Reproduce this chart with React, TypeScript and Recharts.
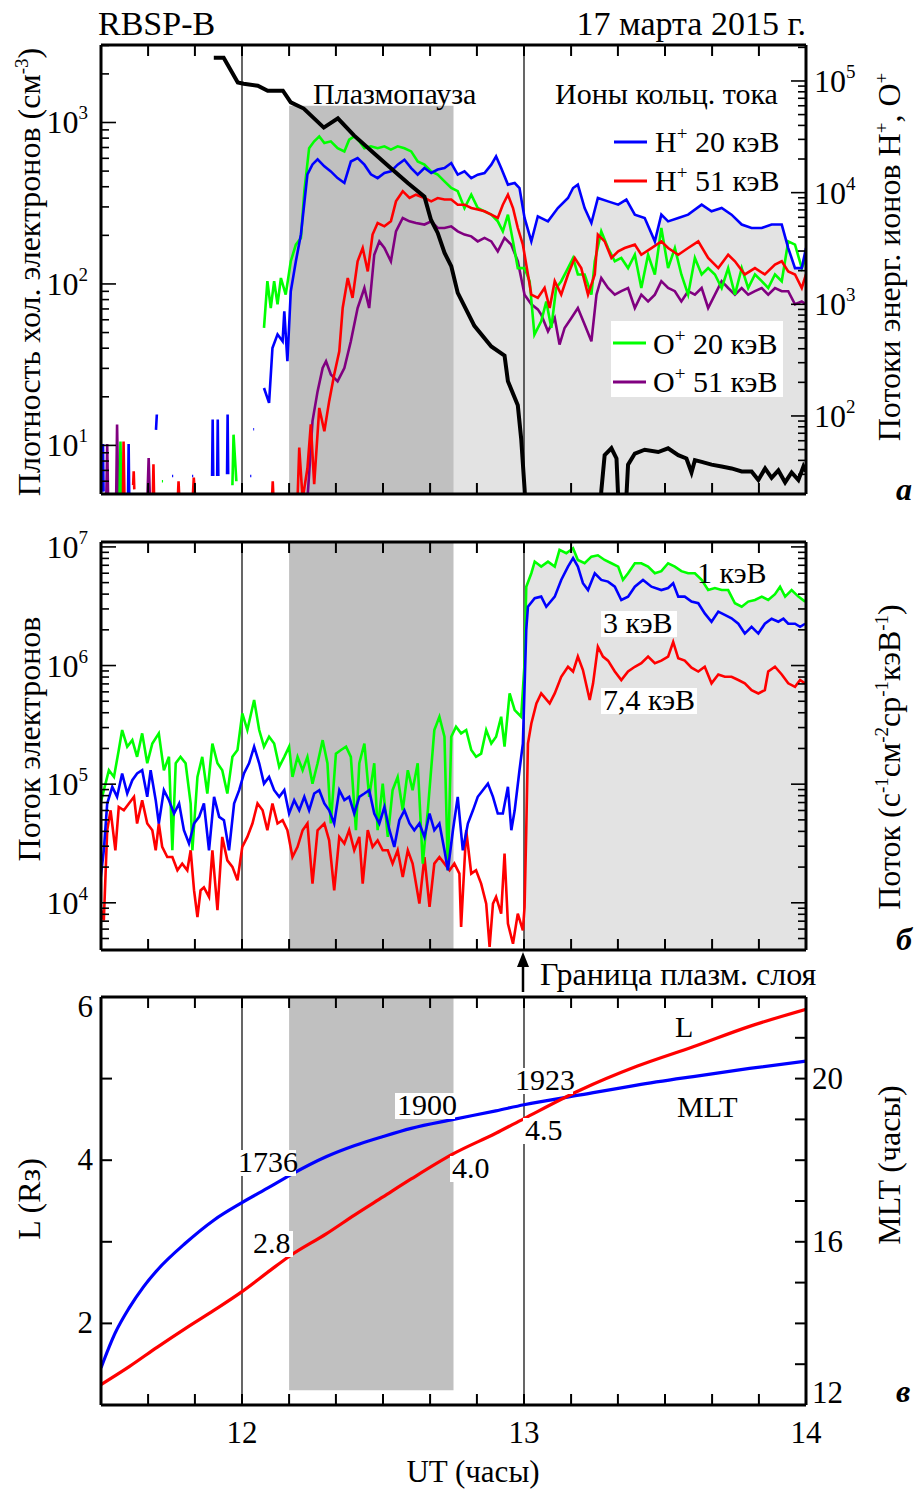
import React from 'react';
import { ComposedChart, Line, Area, XAxis, YAxis, ReferenceArea, ReferenceLine } from 'recharts';

type Pt = [number, number | null];

const FONT = '"Liberation Serif", "Times New Roman", serif';
const BLUE = '#0000ff';
const RED = '#ff0000';
const GREEN = '#00ff00';
const PURPLE = '#800080';
const DARK = '#c0c0c0';
const LIGHT = '#e3e3e3';

// UT axis, decimal hours
const UT_TICKS = [11.5, 11.667, 11.833, 12, 12.167, 12.333, 12.5, 12.667, 12.833, 13, 13.167, 13.333, 13.5, 13.667, 13.833, 14];
const UT_LABELS = [12, 13, 14];
const UT_MARKS = [12, 13];
const PLASMAPAUSE: [number, number] = [12.167, 12.75];

const DENS_DECADES = [1, 10, 100, 1000];
const ION_DECADES = [10, 100, 1000, 10000, 100000];
const ELEC_DECADES = [1000, 10000, 100000, 1000000, 10000000];
const L_TICKS = [1, 2, 3, 4, 5, 6];
const L_LABELS = [2, 4, 6];
const MLT_TICKS = [12, 13, 14, 15, 16, 17, 18, 19, 20, 21, 22];
const MLT_LABELS = [12, 16, 20];

// panel a: cold electron density (cm^-3)
const N_COLD: Pt[] = [[11.9,2520],[11.935,2520],[11.985,1770],[12.006,1740],[12.056,1690],[12.091,1573],[12.145,1573],[12.173,1333],[12.219,1220],[12.29,930],[12.34,1060],[12.397,832],[12.468,645],[12.528,521],[12.589,420],[12.647,347],[12.67,250],[12.694,207],[12.718,156],[12.742,129],[12.765,88],[12.824,55],[12.884,41],[12.931,36],[12.943,25],[12.978,17.7],[12.99,11],[13.002,5.4],[13.01,3],[13.27,3],[13.274,5.2],[13.286,8.7],[13.31,9.6],[13.328,8.3],[13.339,3],[13.357,3],[13.369,7.6],[13.393,8.9],[13.428,9.4],[13.476,9.1],[13.511,9.6],[13.547,8.7],[13.576,8.3],[13.594,6.8],[13.606,8.1],[13.63,7.9],[13.665,7.6],[13.701,7.4],[13.736,7.2],[13.772,6.9],[13.807,6.9],[13.831,6.1],[13.855,7.2],[13.878,6.3],[13.902,7.0],[13.926,5.9],[13.949,6.8],[13.973,6.1],[13.991,7.4],[14.0,6.9]];

// panel a: ring current ion fluxes
const H_20: Pt[] = [[11.505,21],[11.507,56],[11.509,21],[11.51,null],[11.596,20],[11.598,56],[11.6,20],[11.601,null],[11.695,75],[11.698,103],[11.699,null],[11.752,29],[11.756,29],[11.757,null],[11.823,29],[11.827,29],[11.828,null],[11.894,29],[11.896,93],[11.898,29],[11.899,null],[11.912,29],[11.914,93],[11.916,29],[11.917,null],[11.947,30],[11.949,103],[11.951,30],[11.952,null],[12.029,29],[12.033,29],[12.034,null],[12.04,76],[12.043,76],[12.044,null],
[12.078,178],[12.096,131],[12.108,406],[12.126,538],[12.144,466],[12.15,865],[12.161,309],[12.173,1307],[12.191,2430],[12.209,4240],[12.232,14600],[12.25,17900],[12.268,19900],[12.292,17200],[12.315,15500],[12.339,13500],[12.363,12200],[12.386,19000],[12.41,20400],[12.434,17800],[12.457,14600],[12.481,13500],[12.505,15000],[12.528,15500],[12.552,17800],[12.576,19700],[12.6,16600],[12.623,14500],[12.647,16600],[12.671,15000],[12.694,16100],[12.718,16600],[12.742,18400],[12.765,14500],[12.789,15500],[12.813,13500],[12.836,14500],[12.86,15000],[12.884,17800],[12.901,21100],[12.919,16600],[12.943,11800],[12.967,12200],[12.984,11000],[13.002,5930],[13.026,3660],[13.049,6140],[13.085,5530],[13.12,7280],[13.156,8950],[13.174,11000],[13.191,11800],[13.215,7280],[13.239,5350],[13.262,8950],[13.298,8350],[13.334,7800],[13.363,8670],[13.393,6350],[13.428,5930],[13.464,3660],[13.487,6350],[13.511,5530],[13.547,5930],[13.582,6350],[13.63,7800],[13.665,6800],[13.701,7280],[13.736,6350],[13.772,5180],[13.807,4820],[13.843,4820],[13.878,5180],[13.914,5180],[13.937,3190],[13.961,2110],[13.985,2110],[14.0,3190]];

const H_51: Pt[] = [[11.578,20],[11.58,59],[11.583,20],[11.584,null],[11.614,24],[11.616,32],[11.618,22],[11.619,null],[11.684,20],[11.686,37],[11.688,20],[11.689,null],[11.773,20],[11.775,26],[11.777,20],[11.778,null],[11.826,20],[11.829,28],[11.833,20],[11.834,null],[12.107,20],[12.109,26],[12.111,20],[12.112,null],
[12.197,18],[12.203,52],[12.215,18],[12.232,34],[12.244,84],[12.256,24.5],[12.274,118],[12.292,73],[12.309,135],[12.327,235],[12.345,379],[12.357,926],[12.375,1720],[12.392,1140],[12.41,2430],[12.428,3190],[12.446,1970],[12.463,4210],[12.481,5350],[12.505,4990],[12.528,5530],[12.546,8350],[12.57,10300],[12.594,8950],[12.617,9590],[12.647,8950],[12.671,8350],[12.694,8950],[12.718,8670],[12.742,8670],[12.765,7800],[12.789,7800],[12.813,7280],[12.836,7050],[12.86,6800],[12.884,6350],[12.907,5930],[12.925,7800],[12.943,9590],[12.961,7280],[12.978,4820],[12.996,3420],[13.014,1850],[13.026,1220],[13.049,1140],[13.073,1400],[13.091,926],[13.109,1610],[13.132,1220],[13.156,1850],[13.18,2600],[13.203,2110],[13.227,1220],[13.251,1850],[13.262,4210],[13.286,3660],[13.31,2600],[13.334,2980],[13.357,3190],[13.393,3420],[13.416,2780],[13.452,3190],[13.487,3660],[13.511,3190],[13.547,2780],[13.582,3190],[13.618,3660],[13.653,2600],[13.689,2110],[13.724,2780],[13.748,2430],[13.783,1850],[13.819,2110],[13.854,1850],[13.89,2270],[13.914,2430],[13.937,1970],[13.961,1850],[13.985,1400],[14.0,1850]];

const O_20: Pt[] = [[11.566,20],[11.569,59],[11.573,20],[11.574,null],[11.716,26],[11.72,26],[11.721,null],[11.966,24],[11.97,68],[11.98,26],[11.981,null],
[12.078,614],[12.09,1610],[12.102,926],[12.114,1610],[12.126,1000],[12.138,1720],[12.155,1220],[12.173,2430],[12.191,3420],[12.209,3930],[12.221,10300],[12.238,25000],[12.256,28800],[12.274,31900],[12.292,27800],[12.315,28800],[12.339,25000],[12.363,23400],[12.38,29800],[12.398,31900],[12.416,28800],[12.434,25000],[12.457,26000],[12.481,25000],[12.505,26000],[12.528,24300],[12.552,26000],[12.576,25000],[12.6,23400],[12.623,19000],[12.647,17800],[12.671,15500],[12.694,14500],[12.718,12600],[12.742,11000],[12.765,10300],[12.789,7280],[12.813,9590],[12.836,7280],[12.86,6800],[12.884,6350],[12.907,5530],[12.925,4500],[12.943,6350],[12.961,3660],[12.978,2110],[13.002,2110],[13.02,1610],[13.037,535],[13.061,705],[13.079,1060],[13.097,614],[13.114,1400],[13.132,1610],[13.156,2110],[13.174,2600],[13.191,1850],[13.215,1850],[13.239,1220],[13.251,2430],[13.274,4500],[13.298,3190],[13.322,2430],[13.345,2600],[13.369,2110],[13.393,2780],[13.416,1400],[13.44,2780],[13.464,1850],[13.487,4820],[13.511,2110],[13.535,3190],[13.558,1850],[13.582,1220],[13.606,2600],[13.63,1850],[13.653,2110],[13.677,1850],[13.701,1400],[13.724,2110],[13.748,1220],[13.772,2110],[13.795,1400],[13.819,1850],[13.843,1610],[13.866,1400],[13.89,1850],[13.914,1610],[13.937,3660],[13.961,3420],[13.985,2110],[14.0,2600]];

const O_51: Pt[] = [[11.519,20],[11.522,56],[11.525,20],[11.526,null],[11.554,20],[11.557,84],[11.561,20],[11.562,null],[11.665,20],[11.669,42],[11.673,20],[11.674,null],
[12.232,18],[12.238,30],[12.25,90],[12.268,166],[12.286,269],[12.298,309],[12.315,235],[12.339,204],[12.363,269],[12.386,466],[12.41,926],[12.434,1400],[12.451,926],[12.469,2780],[12.487,3660],[12.505,3190],[12.528,2430],[12.546,4500],[12.57,5930],[12.594,5530],[12.617,5350],[12.647,5180],[12.671,5530],[12.694,4820],[12.718,4820],[12.742,4990],[12.765,4500],[12.789,4210],[12.813,4060],[12.836,3660],[12.86,3930],[12.884,3660],[12.907,2980],[12.931,3930],[12.955,3420],[12.978,2430],[13.002,1220],[13.026,1000],[13.049,900],[13.061,809],[13.085,573],[13.109,754],[13.126,436],[13.144,614],[13.168,754],[13.191,926],[13.215,658],[13.239,466],[13.257,1220],[13.274,1720],[13.298,1400],[13.322,1220],[13.345,1310],[13.369,1400],[13.393,926],[13.416,1220],[13.44,1060],[13.464,1220],[13.487,1610],[13.511,1400],[13.535,1310],[13.558,1060],[13.582,1310],[13.606,1220],[13.63,1400],[13.653,926],[13.677,1220],[13.701,1610],[13.724,1400],[13.748,1220],[13.772,1400],[13.795,1220],[13.819,1310],[13.843,1400],[13.866,1220],[13.89,1400],[13.914,1310],[13.937,1310],[13.961,1000],[13.985,1060],[14.0,1000]];

// panel b: electron fluxes
const E_1: Pt[] = [[11.498,68700],[11.516,101000],[11.528,131000],[11.546,115000],[11.563,194000],[11.575,286000],[11.593,207000],[11.611,235000],[11.628,170000],[11.646,268000],[11.664,150000],[11.682,220000],[11.705,268000],[11.723,131000],[11.741,170000],[11.753,27700],[11.765,150000],[11.782,170000],[11.8,150000],[11.818,68700],[11.824,27700],[11.842,115000],[11.859,170000],[11.877,83400],[11.895,220000],[11.913,150000],[11.93,131000],[11.948,83400],[11.966,170000],[11.984,194000],[12.001,395000],[12.019,286000],[12.043,512000],[12.061,286000],[12.078,207000],[12.096,251000],[12.114,220000],[12.132,140000],[12.15,170000],[12.167,207000],[12.179,115000],[12.197,170000],[12.215,131000],[12.232,170000],[12.25,101000],[12.268,150000],[12.286,235000],[12.303,150000],[12.315,46600],[12.333,181000],[12.351,194000],[12.369,207000],[12.386,170000],[12.404,40900],[12.416,150000],[12.434,220000],[12.451,78200],[12.469,150000],[12.481,40900],[12.499,101000],[12.517,35900],[12.534,89000],[12.552,115000],[12.57,60200],[12.588,131000],[12.605,89000],[12.623,150000],[12.641,21400],[12.659,60200],[12.682,286000],[12.7,370000],[12.718,251000],[12.73,18800],[12.742,251000],[12.759,305000],[12.777,268000],[12.795,286000],[12.813,194000],[12.83,170000],[12.848,181000],[12.866,286000],[12.884,220000],[12.901,251000],[12.919,370000],[12.931,207000],[12.949,582000],[12.967,421000],[12.99,370000],[13.002,1045000],[13.008,4620000],[13.026,6000000],[13.038,7520000],[13.061,6820000],[13.085,7520000],[13.109,6820000],[13.126,9440000],[13.15,8850000],[13.174,9750000],[13.191,7760000],[13.215,7280000],[13.239,8280000],[13.262,8500000],[13.286,7760000],[13.31,7280000],[13.334,6820000],[13.351,5270000],[13.369,6000000],[13.393,7280000],[13.416,7280000],[13.44,6820000],[13.464,6000000],[13.487,6250000],[13.511,7280000],[13.535,6820000],[13.558,6250000],[13.582,6000000],[13.606,6000000],[13.63,5270000],[13.653,4330000],[13.677,4500000],[13.701,4330000],[13.724,4330000],[13.748,3350000],[13.772,3130000],[13.795,3460000],[13.819,3570000],[13.843,3810000],[13.866,3570000],[13.89,4000000],[13.908,4620000],[13.926,3810000],[13.949,4330000],[13.973,3810000],[13.997,3460000]];

const E_3: Pt[] = [[11.498,15500],[11.51,27700],[11.522,68700],[11.54,94900],[11.557,78200],[11.575,123000],[11.593,83400],[11.611,108000],[11.628,123000],[11.646,131000],[11.664,78200],[11.676,131000],[11.694,73300],[11.705,46600],[11.723,89000],[11.741,73300],[11.759,56600],[11.777,68700],[11.794,40900],[11.812,31600],[11.83,46600],[11.848,53000],[11.865,68700],[11.883,27700],[11.901,78200],[11.919,53000],[11.936,49700],[11.954,27700],[11.972,68700],[11.99,89000],[12.007,123000],[12.025,150000],[12.043,207000],[12.061,150000],[12.078,101000],[12.096,115000],[12.114,89000],[12.132,78200],[12.15,89000],[12.167,56600],[12.185,73300],[12.203,60200],[12.221,78200],[12.238,60200],[12.256,83400],[12.274,89000],[12.292,68700],[12.309,60200],[12.327,46600],[12.345,89000],[12.363,73300],[12.38,78200],[12.398,56600],[12.416,78200],[12.434,83400],[12.451,89000],[12.469,56600],[12.487,46600],[12.505,64200],[12.523,40900],[12.54,29600],[12.558,49700],[12.576,60200],[12.594,46600],[12.611,40900],[12.629,46600],[12.647,35900],[12.665,56600],[12.682,40900],[12.7,46600],[12.718,27700],[12.73,18800],[12.748,40900],[12.765,78200],[12.783,27700],[12.801,46600],[12.819,60200],[12.836,78200],[12.854,89000],[12.872,101000],[12.89,78200],[12.907,56600],[12.925,56600],[12.943,94900],[12.955,40900],[12.967,60200],[12.984,131000],[12.996,220000],[13.008,2000000],[13.014,3130000],[13.038,3690000],[13.061,3810000],[13.079,3130000],[13.109,3810000],[13.132,5270000],[13.156,6820000],[13.174,8040000],[13.191,6820000],[13.209,4940000],[13.227,4330000],[13.251,6000000],[13.274,5270000],[13.298,5100000],[13.322,4620000],[13.345,3570000],[13.369,3810000],[13.393,4620000],[13.422,5270000],[13.452,4620000],[13.487,4330000],[13.511,4500000],[13.529,4940000],[13.547,3810000],[13.57,3810000],[13.594,3460000],[13.618,3350000],[13.641,2750000],[13.665,2340000],[13.689,2850000],[13.712,2670000],[13.736,2500000],[13.76,2250000],[13.783,1860000],[13.807,2120000],[13.831,1860000],[13.854,2250000],[13.878,2480000],[13.902,2340000],[13.92,2480000],[13.937,2250000],[13.961,2250000],[13.979,2120000],[13.997,2250000]];

const E_74: Pt[] = [[11.498,9220],[11.51,7110],[11.522,40900],[11.534,60200],[11.551,27700],[11.563,64200],[11.581,60200],[11.599,68700],[11.617,78200],[11.628,46600],[11.646,73300],[11.664,46600],[11.682,40900],[11.694,27700],[11.705,46600],[11.717,29600],[11.735,24300],[11.753,24300],[11.771,18800],[11.788,21400],[11.806,18800],[11.818,27700],[11.83,12700],[11.842,7590],[11.853,12700],[11.865,13500],[11.883,11200],[11.895,27700],[11.913,8650],[11.93,35900],[11.948,22800],[11.966,20100],[11.984,15500],[12.001,29600],[12.019,35900],[12.037,46600],[12.055,68700],[12.073,60200],[12.09,40900],[12.108,68700],[12.126,46600],[12.144,49700],[12.161,40900],[12.179,24300],[12.197,29600],[12.215,40900],[12.232,46600],[12.25,14500],[12.268,40900],[12.292,46600],[12.309,33600],[12.327,12700],[12.345,35900],[12.363,31600],[12.38,40900],[12.398,27700],[12.416,35900],[12.428,14500],[12.446,40900],[12.463,29600],[12.481,33600],[12.499,27700],[12.517,27700],[12.534,21400],[12.552,27700],[12.57,16500],[12.588,27700],[12.605,21400],[12.629,9840],[12.647,24300],[12.665,9220],[12.682,21400],[12.7,24300],[12.718,21400],[12.736,18800],[12.753,21400],[12.771,17600],[12.777,6250],[12.795,40900],[12.813,17600],[12.83,18800],[12.848,14500],[12.866,9840],[12.878,4240],[12.89,9840],[12.901,11200],[12.919,8110],[12.931,26000],[12.943,6670],[12.961,4520],[12.978,8110],[12.996,5860],[13.002,9220],[13.008,40900],[13.014,220000],[13.026,325000],[13.044,480000],[13.061,582000],[13.091,480000],[13.109,582000],[13.132,804000],[13.156,977000],[13.174,890000],[13.191,1190000],[13.209,916000],[13.233,512000],[13.245,708000],[13.262,1440000],[13.28,1190000],[13.298,1100000],[13.322,890000],[13.345,755000],[13.369,890000],[13.393,977000],[13.416,1045000],[13.44,1190000],[13.464,1045000],[13.487,1100000],[13.511,1190000],[13.529,1580000],[13.547,1150000],[13.57,1100000],[13.594,960000],[13.618,890000],[13.641,977000],[13.665,708000],[13.689,840000],[13.712,804000],[13.736,804000],[13.76,755000],[13.783,708000],[13.807,621000],[13.831,582000],[13.854,621000],[13.866,890000],[13.89,977000],[13.914,840000],[13.937,708000],[13.961,662000],[13.979,755000],[13.997,708000]];

// panel c: orbit
const L_SHELL: Pt[] = [[11.5,1.25],[11.6,1.47],[11.7,1.71],[11.8,1.94],[11.9,2.16],[12.0,2.39],[12.1,2.65],[12.167,2.82],[12.3,3.1],[12.4,3.33],[12.5,3.55],[12.6,3.77],[12.75,4.08],[12.9,4.33],[13.0,4.51],[13.2,4.86],[13.4,5.15],[13.6,5.39],[13.8,5.64],[14.0,5.85]];
const MLT: Pt[] = [[11.5,12.91],[11.55,13.76],[11.6,14.38],[11.65,14.89],[11.7,15.31],[11.8,15.97],[11.9,16.53],[12.0,16.96],[12.1,17.35],[12.167,17.62],[12.3,18.09],[12.4,18.36],[12.5,18.58],[12.6,18.78],[12.75,19.0],[12.9,19.21],[13.0,19.36],[13.2,19.6],[13.4,19.84],[13.6,20.05],[13.8,20.25],[14.0,20.43]];

const rows = (pts: Pt[]) => pts.map(([t, v]) => ({ t, v }));
const logTicks = (decades: number[], lo: number, hi: number) =>
  decades.flatMap((d) => [1, 2, 3, 4, 5, 6, 7, 8, 9].map((m) => m * d)).filter((v) => v >= lo && v <= hi);

const PL = 101;
const PR = 806;
const AX = 1; // axis box size (kept tiny, the frame sits on the plot edge)
const frame = { stroke: '#000', strokeWidth: 3 };

const xTick = (edge: number, dir: number, labelled: boolean) => (p: any) => {
  const v = Number(p.payload.value);
  return (
    <g>
      <line x1={p.x} x2={p.x} y1={edge} y2={edge + dir * 11} stroke="#000" strokeWidth={2} />
      {labelled && UT_LABELS.includes(v) && (
        <text x={p.x} y={edge + 38} textAnchor="middle" fontFamily={FONT} fontSize={31} fill="#000">{v}</text>
      )}
    </g>
  );
};

const logTick = (edge: number, dir: number, decades: number[], side: 'left' | 'right' | null) => (p: any) => {
  const v = Number(p.payload.value);
  const major = decades.includes(v);
  const exp = Math.round(Math.log10(v));
  return (
    <g>
      <line x1={edge} x2={edge + dir * (major ? 15 : 8)} y1={p.y} y2={p.y} stroke="#000" strokeWidth={1.6} />
      {side && major && (
        <text x={side === 'left' ? edge - 13 : edge + 8} y={p.y + 11} textAnchor={side === 'left' ? 'end' : 'start'}
          fontFamily={FONT} fontSize={32} fill="#000">
          10<tspan dy={-14} fontSize={19}>{exp}</tspan>
        </text>
      )}
    </g>
  );
};

const linTick = (edge: number, dir: number, labels: number[], side: 'left' | 'right', top: number, bottom: number) => (p: any) => {
  const v = Number(p.payload.value);
  const base = Math.min(Math.max(p.y + 10, top + 20), bottom - 2);
  return (
    <g>
      <line x1={edge} x2={edge + dir * 11} y1={p.y} y2={p.y} stroke="#000" strokeWidth={2} />
      {labels.includes(v) && (
        <text x={side === 'left' ? edge - 8 : edge + 6} y={base} textAnchor={side === 'left' ? 'end' : 'start'}
          fontFamily={FONT} fontSize={31} fill="#000">{v}</text>
      )}
    </g>
  );
};

const series = (id: string, pts: Pt[], color: string, width = 2.6) => (
  <Line xAxisId="b" yAxisId={id} data={rows(pts)} dataKey="v" type="linear" stroke={color} strokeWidth={width}
    dot={false} activeDot={false} isAnimationActive={false} />
);

const timeAxes = (top: number, bottom: number, labelled: boolean) => [
  <XAxis key="b" xAxisId="b" dataKey="t" type="number" domain={[11.5, 14]} ticks={UT_TICKS} interval={0} height={AX}
    allowDataOverflow tickLine={false} axisLine={frame} tick={xTick(bottom, -1, labelled)} />,
  <XAxis key="t" xAxisId="t" orientation="top" dataKey="t" type="number" domain={[11.5, 14]} ticks={UT_TICKS} interval={0}
    height={AX} allowDataOverflow tickLine={false} axisLine={frame} tick={xTick(top, 1, false)} />,
];

const marginFor = (top: number, bottom: number, height: number) => ({
  top: top - AX,
  bottom: height - bottom - AX,
  left: PL - AX,
  right: 918 - PR - AX,
});

function PanelA() {
  const top = 45, bottom = 494, h = 520;
  return (
    <ComposedChart width={918} height={h} margin={marginFor(top, bottom, h)}>
      {timeAxes(top, bottom, false)}
      <YAxis yAxisId="n" scale="log" domain={[5, 3020]} allowDataOverflow width={AX} ticks={logTicks(DENS_DECADES, 5, 3020)}
        interval={0} tickLine={false} axisLine={frame} tick={logTick(PL, 1, DENS_DECADES, 'left')} />
      <YAxis yAxisId="f" orientation="right" scale="log" domain={[20, 210000]} allowDataOverflow width={AX}
        ticks={logTicks(ION_DECADES, 20, 210000)} interval={0} tickLine={false} axisLine={frame}
        tick={logTick(PR, -1, ION_DECADES, 'right')} />
      <Area xAxisId="b" yAxisId="f" data={rows(H_20.filter(([t]) => t >= 12.74))} dataKey="v" type="linear" baseValue={20}
        fill={LIGHT} fillOpacity={1} stroke="none" isAnimationActive={false} dot={false} activeDot={false} />
      <ReferenceArea xAxisId="b" yAxisId="n" x1={PLASMAPAUSE[0]} x2={PLASMAPAUSE[1]} y1={5} y2={1270} fill={DARK}
        fillOpacity={1} stroke="none" ifOverflow="hidden" />
      {UT_MARKS.map((m) => <ReferenceLine key={m} xAxisId="b" yAxisId="n" x={m} stroke="#000" strokeWidth={1.2} />)}
      {series('f', O_51, PURPLE)}
      {series('f', O_20, GREEN)}
      {series('f', H_51, RED)}
      {series('f', H_20, BLUE)}
      {series('n', N_COLD, '#000', 4)}
    </ComposedChart>
  );
}

function PanelB() {
  const top = 22, bottom = 430, h = 440;
  return (
    <ComposedChart width={918} height={h} margin={marginFor(top, bottom, h)}>
      {timeAxes(top, bottom, false)}
      <YAxis yAxisId="e" scale="log" domain={[4000, 11000000]} allowDataOverflow width={AX}
        ticks={logTicks(ELEC_DECADES, 4000, 11000000)} interval={0} tickLine={false} axisLine={frame}
        tick={logTick(PL, 1, ELEC_DECADES, 'left')} />
      <YAxis yAxisId="r" orientation="right" scale="log" domain={[4000, 11000000]} allowDataOverflow width={AX}
        ticks={logTicks(ELEC_DECADES, 4000, 11000000)} interval={0} tickLine={false} axisLine={frame}
        tick={logTick(PR, -1, ELEC_DECADES, null)} />
      <Area xAxisId="b" yAxisId="e" data={rows(E_1.filter(([t]) => t >= 13))} dataKey="v" type="linear" baseValue={4000}
        fill={LIGHT} fillOpacity={1} stroke="none" isAnimationActive={false} dot={false} activeDot={false} />
      <ReferenceArea xAxisId="b" yAxisId="e" x1={PLASMAPAUSE[0]} x2={PLASMAPAUSE[1]} y1={4000} y2={11000000} fill={DARK}
        fillOpacity={1} stroke="none" ifOverflow="hidden" />
      {UT_MARKS.map((m) => <ReferenceLine key={m} xAxisId="b" yAxisId="e" x={m} stroke="#000" strokeWidth={1.2} />)}
      {series('e', E_74, RED)}
      {series('e', E_1, GREEN)}
      {series('e', E_3, BLUE)}
    </ComposedChart>
  );
}

function PanelC() {
  const top = 37, bottom = 445, h = 531;
  return (
    <ComposedChart width={918} height={h} margin={marginFor(top, bottom, h)}>
      {timeAxes(top, bottom, true)}
      <YAxis yAxisId="L" domain={[1, 6]} ticks={L_TICKS} interval={0} width={AX} allowDataOverflow tickLine={false}
        axisLine={frame} tick={linTick(PL, 1, L_LABELS, 'left', top, bottom)} />
      <YAxis yAxisId="mlt" orientation="right" domain={[12, 22]} ticks={MLT_TICKS} interval={0} width={AX} allowDataOverflow
        tickLine={false} axisLine={frame} tick={linTick(PR, -1, MLT_LABELS, 'right', top, bottom)} />
      <ReferenceArea xAxisId="b" yAxisId="L" x1={PLASMAPAUSE[0]} x2={PLASMAPAUSE[1]} y1={1.18} y2={6} fill={DARK}
        fillOpacity={1} stroke="none" ifOverflow="hidden" />
      {UT_MARKS.map((m) => <ReferenceLine key={m} xAxisId="b" yAxisId="L" x={m} stroke="#000" strokeWidth={1.2} />)}
      <Line xAxisId="b" yAxisId="mlt" data={rows(MLT)} dataKey="v" type="monotone" stroke={BLUE} strokeWidth={3.2}
        dot={false} activeDot={false} isAnimationActive={false} />
      <Line xAxisId="b" yAxisId="L" data={rows(L_SHELL)} dataKey="v" type="monotone" stroke={RED} strokeWidth={3.2}
        dot={false} activeDot={false} isAnimationActive={false} />
    </ComposedChart>
  );
}

const T = (p: { x: number; y: number; size?: number; anchor?: string; children: React.ReactNode; italic?: boolean; bold?: boolean }) => (
  <text x={p.x} y={p.y} fontFamily={FONT} fontSize={p.size ?? 30} textAnchor={(p.anchor as any) ?? 'start'} fill="#000"
    fontStyle={p.italic ? 'italic' : 'normal'} fontWeight={p.bold ? 'bold' : 'normal'}>{p.children}</text>
);

const VT = (p: { x: number; y: number; children: React.ReactNode }) => (
  <text x={p.x} y={p.y} transform={`rotate(-90 ${p.x} ${p.y})`} textAnchor="middle" fontFamily={FONT} fontSize={32} fill="#000">
    {p.children}
  </text>
);

// raised then back to baseline
const up = (s: string) => <tspan dy={-12} fontSize={19}>{s}</tspan>;
const back = (s: string) => <tspan dy={12}>{s}</tspan>;

const Boxed = ({ x, y, w, text }: { x: number; y: number; w: number; text: string }) => (
  <g>
    <rect x={x - 2} y={y - 22} width={w} height={26} fill="#fff" />
    <T x={x} y={y}>{text}</T>
  </g>
);

function Overlay() {
  return (
    <svg width={918} height={1491} style={{ position: 'absolute', left: 0, top: 0, pointerEvents: 'none' }}>
      <T x={98} y={35} size={34}>RBSP-B</T>
      <T x={806} y={35} size={34} anchor="end">17 марта 2015 г.</T>

      {/* panel a */}
      <T x={313} y={104}>Плазмопауза</T>
      <T x={555} y={104}>Ионы кольц. тока</T>
      <line x1={614} x2={647} y1={142} y2={142} stroke={BLUE} strokeWidth={3} />
      <T x={655} y={152}>H{up('+')}{back(' 20 кэВ')}</T>
      <line x1={614} x2={647} y1={181} y2={181} stroke={RED} strokeWidth={3} />
      <T x={655} y={191}>H{up('+')}{back(' 51 кэВ')}</T>
      <rect x={611} y={321} width={172} height={76} fill="#fff" />
      <line x1={613} x2={646} y1={343} y2={343} stroke={GREEN} strokeWidth={3} />
      <T x={653} y={354}>O{up('+')}{back(' 20 кэВ')}</T>
      <line x1={613} x2={646} y1={382} y2={382} stroke={PURPLE} strokeWidth={3} />
      <T x={653} y={392}>O{up('+')}{back(' 51 кэВ')}</T>
      <VT x={40} y={272}>Плотность хол. электронов (см{up('-3')}{back(')')}</VT>
      <VT x={900} y={257}>Потоки энерг. ионов H{up('+')}{back(', O')}{up('+')}</VT>
      <T x={896} y={500} size={32} italic bold>а</T>

      {/* panel b */}
      <T x={697} y={583}>1 кэВ</T>
      <Boxed x={603} y={633} w={76} text="3 кэВ" />
      <Boxed x={603} y={710} w={96} text="7,4 кэВ" />
      <VT x={40} y={739}>Поток электронов</VT>
      <VT x={900} y={757}>Поток (с{up('-1')}{back('см')}{up('-2')}{back('ср')}{up('-1')}{back('кэВ')}{up('-1')}{back(')')}</VT>
      <T x={896} y={950} size={32} italic bold>б</T>

      <line x1={523} x2={523} y1={992} y2={962} stroke="#000" strokeWidth={2.5} />
      <polygon points="523,952 517,967 529,967" fill="#000" />
      <T x={540} y={985} size={32}>Граница плазм. слоя</T>

      {/* panel c */}
      <Boxed x={238} y={1172} w={60} text="1736" />
      <Boxed x={253} y={1253} w={42} text="2.8" />
      <Boxed x={397} y={1115} w={60} text="1900" />
      <Boxed x={452} y={1178} w={42} text="4.0" />
      <Boxed x={515} y={1090} w={60} text="1923" />
      <Boxed x={525} y={1140} w={42} text="4.5" />
      <T x={675} y={1037}>L</T>
      <T x={677} y={1117}>MLT</T>
      <VT x={40} y={1199}>L (Rз)</VT>
      <VT x={900} y={1165}>MLT (часы)</VT>
      <T x={896} y={1402} size={32} italic bold>в</T>
      <T x={473} y={1482} size={31} anchor="middle">UT (часы)</T>
    </svg>
  );
}

export default function App() {
  return (
    <div style={{ position: 'absolute', left: 0, top: 0, width: 918, height: 1491, background: '#fff', overflow: 'hidden' }}>
      <div style={{ position: 'absolute', left: 0, top: 0 }}><PanelA /></div>
      <div style={{ position: 'absolute', left: 0, top: 520 }}><PanelB /></div>
      <div style={{ position: 'absolute', left: 0, top: 960 }}><PanelC /></div>
      <Overlay />
    </div>
  );
}
